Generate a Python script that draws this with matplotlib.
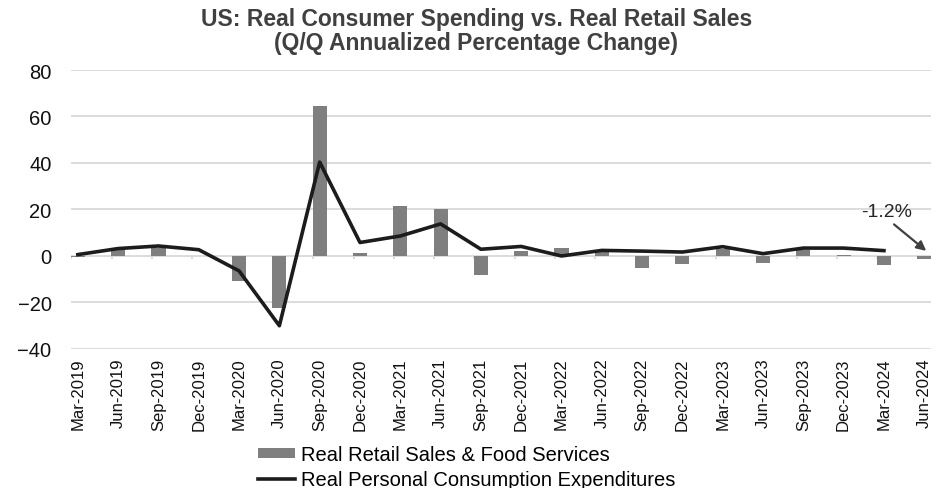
import numpy as np
import matplotlib
matplotlib.use("Agg")
import matplotlib.pyplot as plt

plt.rcParams['font.family'] = ['Liberation Sans', 'DejaVu Sans']

quarters = ['Mar-2019', 'Jun-2019', 'Sep-2019', 'Dec-2019',
            'Mar-2020', 'Jun-2020', 'Sep-2020', 'Dec-2020',
            'Mar-2021', 'Jun-2021', 'Sep-2021', 'Dec-2021',
            'Mar-2022', 'Jun-2022', 'Sep-2022', 'Dec-2022',
            'Mar-2023', 'Jun-2023', 'Sep-2023', 'Dec-2023',
            'Mar-2024', 'Jun-2024']

# real retail sales & food services, q/q annualized %
retail_sales = [-0.6, 2.9, 3.6, 0.2,
                -10.7, -22.2, 64.5, 1.1,
                21.5, 20.4, -8.3, 2.2,
                3.4, 1.5, -5.2, -3.3,
                3.1, -2.9, 2.4, 0.5,
                -4.0, -1.2]

# real personal consumption expenditures, q/q annualized % (no Q2-2024 print yet)
pce = [0.6, 3.2, 4.3, 2.7,
       -6.4, -30.0, 40.4, 5.8,
       8.6, 13.8, 2.9, 4.1,
       0.0, 2.4, 2.1, 1.7,
       4.0, 1.0, 3.4, 3.4,
       2.3, np.nan]

x = np.arange(len(quarters))

fig = plt.figure(figsize=(9.53, 4.89), dpi=100)
ax = fig.add_axes([0.0745, 0.2843, 0.9025, 0.5705])

grid_color = '#d9d9d9'
for yv in range(-40, 81, 20):
    ax.axhline(yv, color=grid_color, lw=1.3, zorder=0)

# small category tick marks hanging off the zero line
ax.vlines(x - 0.16, -1.3, 0, color=grid_color, lw=1.3, zorder=0)

bars = ax.bar(x, retail_sales, width=0.35, color='#7f7f7f',
              label='Real Retail Sales & Food Services', zorder=2)
line, = ax.plot(x, pce, color='#1c1c1c', lw=2.6, solid_joinstyle='round',
                label='Real Personal Consumption Expenditures', zorder=3)

# call-out for the latest retail sales print
last = retail_sales[-1]
ax.annotate('', xy=(x[-1] + 0.05, last + 3.4), xytext=(x[-1] - 0.75, last + 14.8),
            arrowprops=dict(arrowstyle='-|>', color='#404040', lw=1.6,
                            mutation_scale=14, shrinkA=0, shrinkB=0), zorder=4)
ax.text(x[-1] - 0.93, 19.2, f'{last:.1f}%', ha='center', va='center',
        fontsize=14, color='#262626', zorder=4)

ax.set_xlim(-0.17, 21.17)
ax.set_ylim(-40, 80)
ax.set_yticks(range(-40, 81, 20))
ax.set_xticks(x)
ax.set_xticklabels(quarters, rotation=90, fontsize=12, color='#111111')
ax.tick_params(axis='x', length=0, pad=6)
ax.tick_params(axis='y', length=0, pad=14, labelsize=14.5, labelcolor='#111111')
for side in ['top', 'right', 'left', 'bottom']:
    ax.spines[side].set_visible(False)

fig.suptitle('US: Real Consumer Spending vs. Real Retail Sales\n(Q/Q Annualized Percentage Change)',
             x=0.5, y=0.984, fontsize=16.5, fontweight='bold', color='#404040',
             linespacing=1.05)

fig.legend([bars, line], [bars.get_label(), line.get_label()],
           loc='lower left', bbox_to_anchor=(0.262, -0.019), ncol=1, frameon=False,
           fontsize=14.5, handlelength=1.85, handleheight=0.35, handletextpad=0.3,
           labelspacing=0.3, borderaxespad=0)

fig.savefig('out.png', dpi=100)
